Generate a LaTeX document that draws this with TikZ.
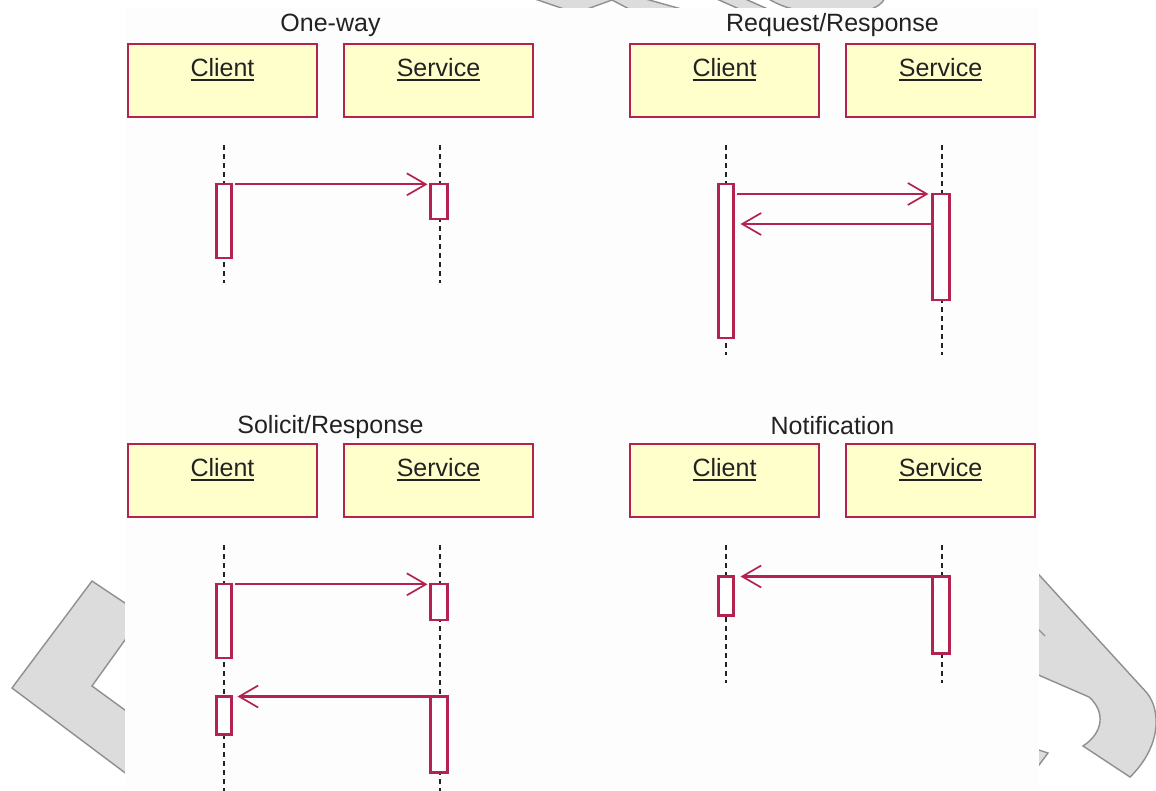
\documentclass[tikz,border=0pt]{standalone}
\usepackage{fontspec}
\setmainfont{Liberation Sans}
\usetikzlibrary{arrows.meta}
\definecolor{umlred}{RGB}{180,35,80}
\definecolor{umlfill}{RGB}{255,255,204}
\definecolor{ink}{RGB}{34,34,34}
\definecolor{wmfill}{RGB}{220,220,220}
\definecolor{wmline}{RGB}{143,143,143}
\definecolor{sheet}{RGB}{253,253,253}
% underlined object name
\newcommand\ulabel[1]{\setbox0=\hbox{#1}\vtop{\copy0\kern2.6pt\hrule height1.8pt}}
\tikzset{
  obj/.style={rectangle, draw=umlred, fill=umlfill, line width=2.7pt,
    minimum width=189pt, minimum height=73pt, inner sep=0pt, outer sep=0pt},
  objname/.style={anchor=base, inner sep=0pt, text=ink, font=\fontsize{25}{30}\selectfont},
  diagtitle/.style={anchor=base, inner sep=0pt, text=ink, font=\fontsize{25}{30}\selectfont},
  life/.style={draw=ink, line width=2.6pt, dash pattern=on 5pt off 4pt},
  cbar/.style={rectangle, draw=umlred, fill=white, line width=2.3pt,
    minimum width=15pt, inner sep=0pt, outer sep=0pt, anchor=north},
  sbar/.style={cbar, minimum width=17pt},
  msg/.style={draw=umlred, line width=2.2pt, -{Straight Barb[length=19pt,width=22pt,line width=1.7pt]}},
  wmshape/.style={fill=wmfill, draw=wmline, line width=1.4pt, line join=miter},
}
\begin{document}
\begin{tikzpicture}[x=1pt,y=-1pt]
\useasboundingbox (0,0) rectangle (1156,790);

% background marks around the sheet
\draw[wmshape] (140,613) -- (92,581) -- (12,688) -- (140,784) -- (140,721) -- (92,686) -- (140,619) -- cycle;
\draw[wmshape] (1020,554) -- (1147,693) .. controls (1162,712) and (1160,748) .. (1130,777)
  -- (1083,746) .. controls (1103,733) and (1106,712) .. (1089,697) -- (1020,667) -- cycle;
\draw[wmshape] (1030,747) -- (1048,753) -- (1030,777) -- cycle;
\draw[wmline, line width=1.4pt] (1033,624) -- (1045,636);
\draw[wmshape] (532,-2) -- (567,10) -- (584.5,10) -- (612,0) -- (631,10) -- (685,10) -- (642,-2) -- cycle;
\draw[wmshape] (714.5,-2) -- (741.5,10) -- (770,10) -- (743,-2) -- cycle;
\draw[wmshape] (767,-2) .. controls (780,6) and (792,10) .. (804,10) -- (868,10) .. controls (876,8) and (882,4) .. (885,-2) -- cycle;

% sheet
\fill[sheet] (125,8) rectangle (1039,790);

% ---------- One-way ----------
\node[diagtitle] (ow-t) at (330.5,31.5) {One-way};
\node[obj] (ow-c) at (222.5,80.5) {};
\node[obj] (ow-s) at (438.5,80.5) {};
\node[objname] (ow-cn) at ([yshift=-32pt]ow-c.north) {\ulabel{Client}};
\node[objname] (ow-sn) at ([yshift=-32pt]ow-s.north) {\ulabel{Service}};
\coordinate (ow-cl1) at (224,145); \coordinate (ow-cl2) at (224,283);
\coordinate (ow-sl1) at (440,145); \coordinate (ow-sl2) at (440,283);
\draw[life] (ow-cl1) -- (ow-cl2);
\draw[life] (ow-sl1) -- (ow-sl2);
\node[cbar, minimum height=73.4pt] (ow-cb) at (224,184.3) {};
\node[sbar, minimum height=35pt] (ow-sb) at (439,184.3) {};
\draw[msg, shorten <=3pt, shorten >=3pt] (ow-cb.north east) -- (ow-sb.north west);

% ---------- Request/Response ----------
\node[diagtitle] (rr-t) at (832.5,31.5) {Request/Response};
\node[obj] (rr-c) at (724.5,80.5) {};
\node[obj] (rr-s) at (940.5,80.5) {};
\node[objname] (rr-cn) at ([yshift=-32pt]rr-c.north) {\ulabel{Client}};
\node[objname] (rr-sn) at ([yshift=-32pt]rr-s.north) {\ulabel{Service}};
\coordinate (rr-cl1) at (726,145); \coordinate (rr-cl2) at (726,355);
\coordinate (rr-sl1) at (942,145); \coordinate (rr-sl2) at (942,355);
\draw[life] (rr-cl1) -- (rr-cl2);
\draw[life] (rr-sl1) -- (rr-sl2);
\node[cbar, minimum height=154pt] (rr-cb) at (726,184.3) {};
\node[sbar, minimum height=106pt] (rr-sb) at (941,194) {};
\draw[msg, shorten <=3pt, shorten >=4pt] (rr-cb.east |- rr-sb.north) -- (rr-sb.north west);
\coordinate (rr-ret) at ([yshift=-30pt]rr-sb.north west);
\draw[msg, shorten >=7pt] (rr-ret) -- (rr-cb.east |- rr-ret);

% ---------- Solicit/Response ----------
\node[diagtitle] (sr-t) at (330.5,433) {Solicit/Response};
\node[obj] (sr-c) at (222.5,480.5) {};
\node[obj] (sr-s) at (438.5,480.5) {};
\node[objname] (sr-cn) at ([yshift=-32pt]sr-c.north) {\ulabel{Client}};
\node[objname] (sr-sn) at ([yshift=-32pt]sr-s.north) {\ulabel{Service}};
\coordinate (sr-cl1) at (224,545); \coordinate (sr-cl2) at (224,792);
\coordinate (sr-sl1) at (440,545); \coordinate (sr-sl2) at (440,792);
\draw[life] (sr-cl1) -- (sr-cl2);
\draw[life] (sr-sl1) -- (sr-sl2);
\node[cbar, minimum height=74pt] (sr-cb1) at (224,584.3) {};
\node[sbar, minimum height=36pt] (sr-sb1) at (439,584.3) {};
\node[cbar, minimum height=38pt] (sr-cb2) at (224,696.5) {};
\node[sbar, minimum height=76pt] (sr-sb2) at (439,696.5) {};
\draw[msg, shorten <=3pt, shorten >=3pt] (sr-cb1.north east) -- (sr-sb1.north west);
\draw[msg, shorten >=6pt] (sr-sb2.north west) -- (sr-cb2.north east);

% ---------- Notification ----------
\node[diagtitle] (nt-t) at (832.5,434) {Notification};
\node[obj] (nt-c) at (724.5,480.5) {};
\node[obj] (nt-s) at (940.5,480.5) {};
\node[objname] (nt-cn) at ([yshift=-32pt]nt-c.north) {\ulabel{Client}};
\node[objname] (nt-sn) at ([yshift=-32pt]nt-s.north) {\ulabel{Service}};
\coordinate (nt-cl1) at (726,545); \coordinate (nt-cl2) at (726,683);
\coordinate (nt-sl1) at (942,545); \coordinate (nt-sl2) at (942,683);
\draw[life] (nt-cl1) -- (nt-cl2);
\draw[life] (nt-sl1) -- (nt-sl2);
\node[cbar, minimum height=39pt] (nt-cb) at (726,576.5) {};
\node[sbar, minimum height=77pt] (nt-sb) at (941,576.5) {};
\draw[msg, shorten >=7pt] (nt-sb.north west) -- (nt-cb.north east);
\end{tikzpicture}
\end{document}
